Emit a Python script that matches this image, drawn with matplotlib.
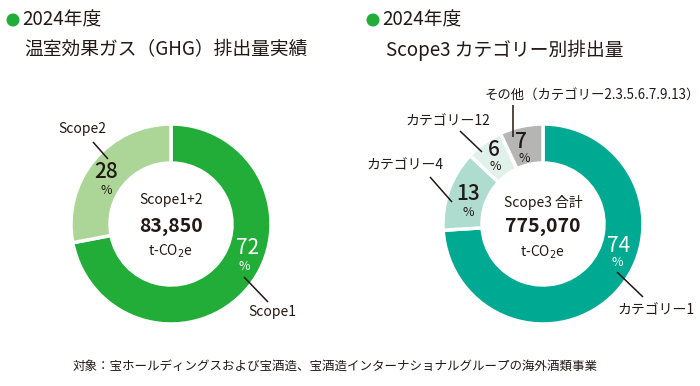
import matplotlib
matplotlib.use("Agg")
import matplotlib.pyplot as plt
from matplotlib.patches import Circle

plt.rcParams['font.family'] = ['Noto Sans CJK JP', 'DejaVu Sans']

# Data
ghg_labels = ["Scope1", "Scope2"]
ghg_values = [72, 28]
ghg_colors = ["#22ac38", "#acd598"]
ghg_total = "83,850"

s3_labels = ["カテゴリー1", "カテゴリー4", "カテゴリー12", "その他（カテゴリー2.3.5.6.7.9.13）"]
s3_values = [74, 13, 6, 7]
s3_colors = ["#00a991", "#aedcce", "#e0f1ec", "#b5b5b4"]
s3_total = "775,070"

TXT = "#231815"
W, H = 700, 386
fig = plt.figure(figsize=(7, 3.86), dpi=100)
ax = fig.add_axes([0, 0, 1, 1])
ax.set_xlim(0, W)
ax.set_ylim(0, H)
ax.set_aspect('equal')
ax.axis('off')

def Y(y):
    return H - y

def donut(vals, cols, cx, cy, r, w):
    ax.pie(vals, colors=cols, center=(cx, Y(cy)), radius=r, startangle=90,
           counterclock=False, wedgeprops=dict(width=w, edgecolor='white', linewidth=2.5),
           frame=True)

donut(ghg_values, ghg_colors, 171, 224, 100, 39)
donut(s3_values, s3_colors, 543, 224, 100, 39)
ax.set_xlim(0, W)
ax.set_ylim(0, H)
ax.axis('off')

def t(x, y, s, size, color=TXT, ha='center', weight='normal'):
    ax.text(x, Y(y), s, fontsize=size, color=color, ha=ha, va='center', fontweight=weight)

def line(x1, y1, x2, y2):
    ax.plot([x1, x2], [Y(y1), Y(y2)], color=TXT, lw=1.1, solid_capstyle='butt')

# Titles
for cx in (12, 372):
    ax.add_patch(Circle((cx + 1, Y(20)), 6.5, color="#22ac38", lw=0))
t(22, 20, "2024年度", 13.5, ha='left')
t(24, 50, "温室効果ガス（GHG）排出量実績", 13.5, ha='left')
t(382, 20, "2024年度", 13.5, ha='left')
t(386, 50, "Scope3 カテゴリー別排出量", 13.5, ha='left')

# Left donut texts
t(171, 200, "Scope1+2", 10)
t(171, 226, ghg_total, 14, weight='bold')
t(171, 251, r"t-CO$_2$e", 10)
t(248, 248, f"{ghg_values[0]}", 15, color='white')
t(244, 266, "%", 9, color='white')
t(106, 172, f"{ghg_values[1]}", 15, weight='medium')
t(106, 190, "%", 9)
t(82, 129, ghg_labels[1], 10)
line(93, 142, 108, 159)
t(248, 312, ghg_labels[0], 10, ha='left')
line(244, 277, 268, 302)

# Right donut texts
t(543, 202, "Scope3 合計", 10)
t(543, 226, s3_total, 14, weight='bold')
t(543, 252, r"t-CO$_2$e", 10)
t(619, 246, f"{s3_values[0]}", 15, color='white')
t(617, 263, "%", 9, color='white')
t(468, 194, f"{s3_values[1]}", 15, weight='medium')
t(468, 212, "%", 9)
t(494, 150, f"{s3_values[2]}", 15, weight='medium')
t(495, 167, "%", 9)
t(521, 142, f"{s3_values[3]}", 15, weight='medium')
t(524, 159, "%", 9)
t(617, 310, s3_labels[0], 10, ha='left')
line(617, 272, 643, 297)
t(366, 165, s3_labels[1], 10, ha='left')
line(430, 177, 452, 202)
t(405, 121, s3_labels[2], 10, ha='left')
line(460, 131, 482, 152)
t(485, 95, s3_labels[3], 9.6, ha='left')
line(513, 105, 513, 137)

# Footer
t(73, 366, "対象：宝ホールディングスおよび宝酒造、宝酒造インターナショナルグループの海外酒類事業", 9, ha='left')

fig.savefig("out.png", dpi=100)
